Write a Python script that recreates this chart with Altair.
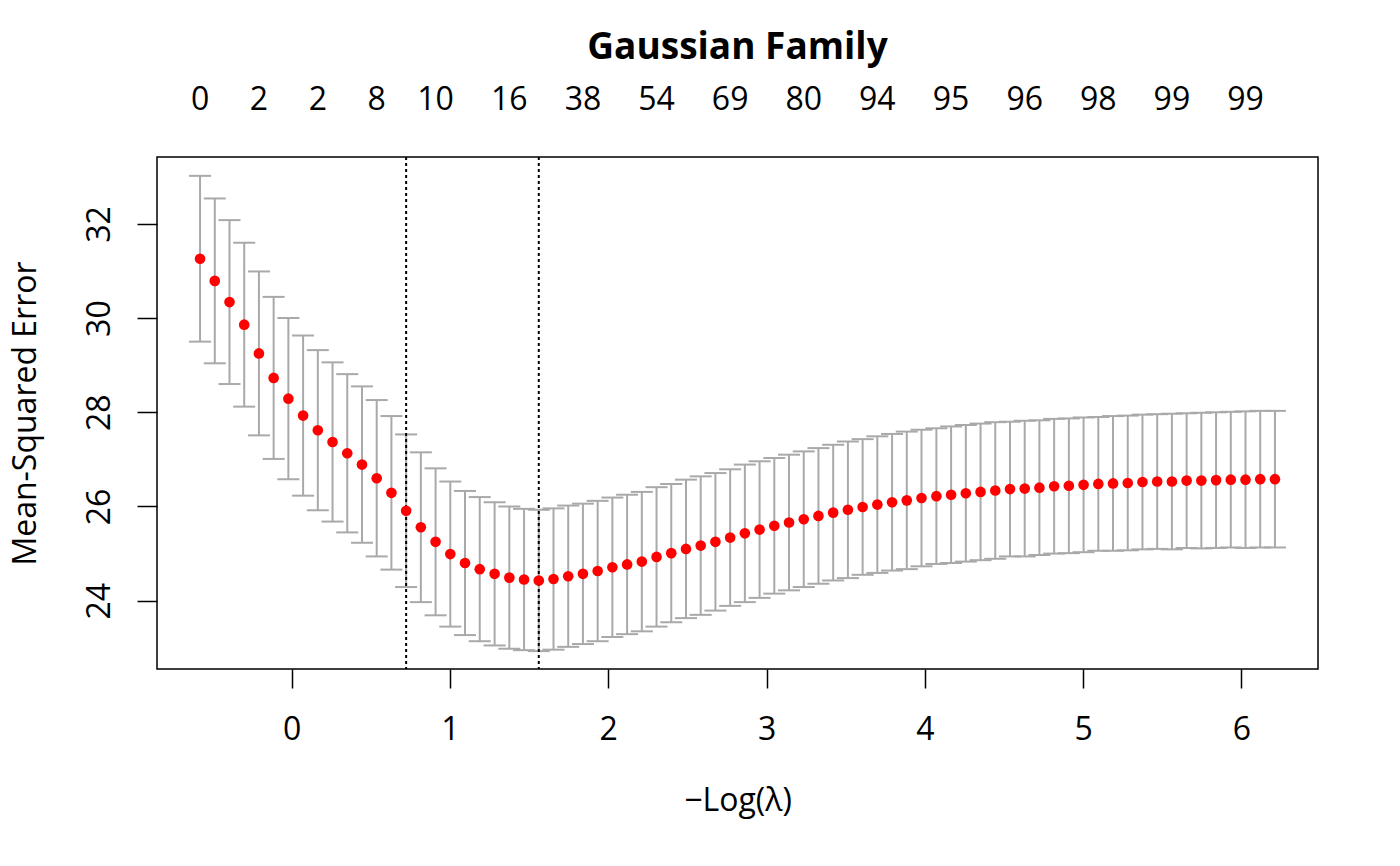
import altair as alt
import pandas as pd

# -Log(lambda) values of the lambda path
neg_log_lambda = [
    -0.579, -0.486, -0.393, -0.300, -0.207, -0.114, -0.021, 0.072, 0.165, 0.258,
    0.351, 0.444, 0.537, 0.630, 0.723, 0.816, 0.909, 1.002, 1.095, 1.188,
    1.282, 1.375, 1.468, 1.561, 1.654, 1.747, 1.840, 1.933, 2.026, 2.119,
    2.212, 2.305, 2.398, 2.491, 2.584, 2.677, 2.770, 2.863, 2.956, 3.049,
    3.142, 3.235, 3.328, 3.421, 3.514, 3.607, 3.700, 3.793, 3.886, 3.979,
    4.073, 4.166, 4.259, 4.352, 4.445, 4.538, 4.631, 4.724, 4.817, 4.910,
    5.003, 5.096, 5.189, 5.282, 5.375, 5.468, 5.561, 5.654, 5.747, 5.840,
    5.933, 6.026, 6.119, 6.212,
]

# cross-validated mean-squared error
cvm = [
    31.26, 30.79, 30.34, 29.86, 29.25, 28.73, 28.29, 27.93, 27.62, 27.37,
    27.13, 26.89, 26.60, 26.29, 25.91, 25.56, 25.25, 24.99, 24.80, 24.67,
    24.57, 24.49, 24.45, 24.43, 24.46, 24.52, 24.57, 24.63, 24.71, 24.77,
    24.83, 24.93, 25.01, 25.10, 25.17, 25.25, 25.34, 25.43, 25.51, 25.59,
    25.66, 25.73, 25.80, 25.87, 25.93, 25.99, 26.04, 26.09, 26.13, 26.18,
    26.22, 26.25, 26.28, 26.31, 26.34, 26.37, 26.38, 26.40, 26.43, 26.44,
    26.46, 26.48, 26.49, 26.50, 26.52, 26.53, 26.53, 26.55, 26.55, 26.56,
    26.57, 26.57, 26.58, 26.58,
]

# standard error of the CV estimate
cvsd = [
    1.76, 1.75, 1.74, 1.74, 1.74, 1.72, 1.71, 1.70, 1.70, 1.69,
    1.68, 1.66, 1.66, 1.63, 1.62, 1.59, 1.56, 1.54, 1.53, 1.53,
    1.52, 1.51, 1.50, 1.50, 1.50, 1.50, 1.49, 1.49, 1.48, 1.48,
    1.48, 1.48, 1.47, 1.47, 1.47, 1.46, 1.45, 1.46, 1.45, 1.44,
    1.44, 1.44, 1.44, 1.44, 1.45, 1.44, 1.45, 1.45, 1.46, 1.45,
    1.44, 1.45, 1.45, 1.45, 1.45, 1.43, 1.44, 1.43, 1.43, 1.43,
    1.43, 1.42, 1.43, 1.43, 1.43, 1.43, 1.44, 1.43, 1.44, 1.44,
    1.44, 1.45, 1.45, 1.45,
]

# number of non-zero coefficients shown on the top axis
nz_index = [0, 4, 8, 12, 16, 21, 26, 31, 36, 41, 46, 51, 56, 61, 66, 71]
nz_labels = ["0", "2", "2", "8", "10", "16", "38", "54", "69", "80",
             "94", "95", "96", "98", "99", "99"]

# lambda.1se and lambda.min positions (indices into the path)
vline_index = [14, 23]

FONT = "Open Sans"
GREY = "#A9A9A9"
FS = 32

df = pd.DataFrame({
    "x": neg_log_lambda,
    "cvm": cvm,
    "lo": [m - s for m, s in zip(cvm, cvsd)],
    "hi": [m + s for m, s in zip(cvm, cvsd)],
})
df_nz = pd.DataFrame({"x": [neg_log_lambda[i] for i in nz_index], "label": nz_labels})
df_v = pd.DataFrame({"x": [neg_log_lambda[i] for i in vline_index]})

xscale = alt.Scale(domain=[-0.851, 6.484], nice=False, zero=False)
yscale = alt.Scale(domain=[22.55, 33.42], nice=False, zero=False)

xaxis = alt.Axis(
    title="\u2212Log(\u03bb)", values=[0, 1, 2, 3, 4, 5, 6], format="d",
    grid=False, domain=False, tickSize=19, tickWidth=1.5, tickColor="black",
    labelFontSize=FS, labelFont=FONT, labelColor="black", labelPadding=26,
    titleFontSize=FS, titleFont=FONT, titleFontWeight="normal", titleColor="black",
    titlePadding=40,
)
yaxis = alt.Axis(
    title="Mean-Squared Error", values=[24, 26, 28, 30, 32], format="d",
    grid=False, domain=False, tickSize=20, tickWidth=1.5, tickColor="black",
    labelFontSize=FS, labelFont=FONT, labelColor="black", labelAngle=270,
    labelAlign="center", labelBaseline="bottom", labelPadding=21,
    titleFontSize=FS, titleFont=FONT, titleFontWeight="normal", titleColor="black",
    titlePadding=41,
)

base = alt.Chart(df)

bars = base.mark_rule(color=GREY, strokeWidth=2).encode(
    x=alt.X("x:Q", scale=xscale, axis=xaxis),
    y=alt.Y("lo:Q", scale=yscale, axis=yaxis),
    y2="hi:Q",
)
cap_hi = base.mark_tick(orient="horizontal", size=22, thickness=2, color=GREY, opacity=1).encode(
    x=alt.X("x:Q", scale=xscale), y=alt.Y("hi:Q", scale=yscale)
)
cap_lo = base.mark_tick(orient="horizontal", size=22, thickness=2, color=GREY, opacity=1).encode(
    x=alt.X("x:Q", scale=xscale), y=alt.Y("lo:Q", scale=yscale)
)
vlines = alt.Chart(df_v).mark_rule(color="black", strokeWidth=2, strokeDash=[3, 3]).encode(
    x=alt.X("x:Q", scale=xscale)
)
points = base.mark_circle(size=113, color="red", opacity=1).encode(
    x=alt.X("x:Q", scale=xscale), y=alt.Y("cvm:Q", scale=yscale)
)
toplabels = alt.Chart(df_nz).mark_text(
    font=FONT, fontSize=FS, color="black", baseline="alphabetic", align="center"
).encode(
    x=alt.X("x:Q", scale=xscale), y=alt.value(-47), text="label:N"
)

chart = alt.layer(bars, cap_hi, cap_lo, vlines, points, toplabels).properties(
    width=1161, height=512,
    title=alt.TitleParams("Gaussian Family", font=FONT, fontSize=37, fontWeight="bold",
                          color="black", anchor="middle", offset=17),
    autosize=alt.AutoSizeParams(type="none"),
    padding={"left": 149, "top": 149, "right": 70, "bottom": 180},
).configure_view(stroke="black", strokeWidth=1.5)

chart.save("out.html", embed_options={"renderer": "svg", "actions": False})
